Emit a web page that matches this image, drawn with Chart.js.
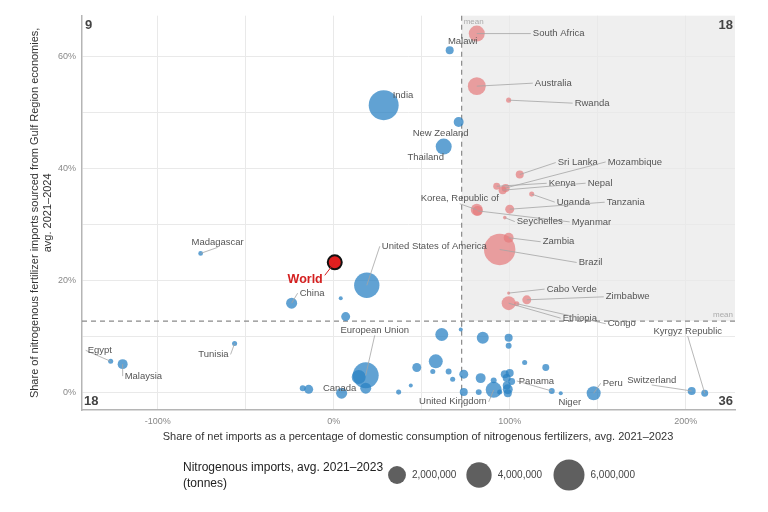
<!DOCTYPE html>
<html>
<head>
<meta charset="utf-8">
<script src="https://cdn.jsdelivr.net/npm/chart.js"></script>
<style>
  html, body { margin: 0; padding: 0; background: #fff; }
  #wrap { width: 768px; height: 512px; }
</style>
</head>
<body>
<div id="wrap"><canvas id="fertChart" width="768" height="512"></canvas></div>
<script>
// Data
const economies = [
  'South Africa', 'Australia', 'Rwanda', 'Sri Lanka', 'Kenya', 'Nepal', 'Mozambique', 'Uganda',
  'Tanzania', 'Korea, Republic of', 'Myanmar', 'Seychelles', 'Zambia', 'Brazil', 'Cabo Verde',
  'Zimbabwe', 'Ethiopia', 'Congo',
  'Malawi', 'India', 'New Zealand', 'Thailand', 'Madagascar', 'United States of America', 'China',
  'Egypt', 'Malaysia', 'Tunisia', 'European Union', 'Canada', 'United Kingdom', 'Panama', 'Niger',
  'Peru', 'Switzerland', 'Kyrgyz Republic',
  '', '', '', '', '', '', '', '', '', '', '', '', '', '', '', '', '', '', '', '', '', '', '', '', '', '', '', '', '', '', '', '', ''
];
// share of net imports in domestic consumption (%)
const netImportShare = [
  81.3, 81.3, 99.4, 105.7, 92.6, 96.0, 97.7, 112.5,
  100.0, 81.3, 81.8, 97.2, 99.4, 94.3, 99.4,
  109.7, 99.4, 104.0,
  65.9, 28.4, 71.0, 62.5, -75.6, 18.8, -23.9,
  -126.7, -119.9, -56.3, 18.2, 4.5, 90.9, 123.9, 129.0,
  147.7, 203.4, 210.8,
  4.0, 6.8, 14.2, 18.2, -17.6, -14.2, 36.9, 43.8, 47.2, 58.0, 56.3, 61.4, 65.3, 67.6, 72.2,
  84.7, 99.4, 99.4, 73.9, 83.5, 90.9, 108.5, 120.5, 73.9, 82.4, 94.3,
  97.2, 100.0, 98.3, 101.1, 98.3, 98.9, 98.9
];
// share of imports sourced from Gulf Region economies (%)
const gulfShare = [
  64.1, 54.7, 52.2, 38.9, 36.8, 36.1, 36.5, 35.4,
  32.7, 32.6, 32.4, 31.2, 27.6, 25.5, 17.7,
  16.5, 15.9, 15.8,
  61.1, 51.3, 48.3, 43.9, 24.8, 19.1, 15.9,
  5.5, 5.0, 8.7, 3.0, -0.2, 0.4, 0.2, -0.2,
  -0.2, 0.2, -0.2,
  16.8, 13.5, 2.7, 0.7, 0.7, 0.5, 0.0, 1.2, 4.4, 5.5, 3.7, 10.3, 3.7, 2.3, 11.2,
  9.7, 9.7, 8.3, 3.2, 2.5, 2.1, 5.3, 4.4, 0.0, 0.0, 0.0,
  3.2, 3.4, 2.5, 1.9, 1.2, 0.5, -0.2
];
// nitrogenous imports, avg. 2021-2023 (tonnes)
const importsTonnes = [
  1600000, 2000000, 160000, 400000, 300000, 400000, 400000, 160000,
  500000, 900000, 620000, 80000, 620000, 6150000, 60000,
  500000, 1220000, 160000,
  400000, 5600000, 620000, 1600000, 140000, 4000000, 760000,
  160000, 620000, 160000, 4200000, 760000, 1600000, 220000, 100000,
  1220000, 400000, 300000,
  100000, 500000, 1220000, 760000, 220000, 500000, 160000, 100000, 500000, 1220000, 160000, 1050000, 220000, 160000, 100000,
  900000, 400000, 220000, 500000, 620000, 220000, 160000, 300000, 400000, 220000, 160000,
  400000, 400000, 400000, 300000, 400000, 620000, 400000
];
const world = { x: 0.6, y: 23.2 };
const meanX = 72.7;
const meanY = 12.7;
const legendSizes = [2000000, 4000000, 6000000];
const quadrantCounts = ['9', '18', '18', '36'];

// label placement (pixel offsets from the bubble), styling only
const labelPlace = {
  'South Africa': [56, 0, 'left'], 'Malawi': [13, -9, 'center', false], 'Australia': [58, -3, 'left'],
  'Rwanda': [66, 3, 'left'], 'India': [9, -10, 'left', false], 'New Zealand': [-18, 11, 'center', false],
  'Thailand': [-18, 11, 'center', false], 'Sri Lanka': [38, -12, 'left'], 'Mozambique': [102, -26, 'left'],
  'Kenya': [52, -3, 'left'], 'Nepal': [85, -7, 'left'], 'Uganda': [25, 8, 'left'], 'Tanzania': [97, -7, 'left'],
  'Korea, Republic of': [-17, -11, 'center'], 'Myanmar': [94, 11, 'left'], 'Seychelles': [12, 4, 'left'],
  'Zambia': [34, 4, 'left'], 'Brazil': [79, 13, 'left'], 'Cabo Verde': [38, -4, 'left'],
  'Zimbabwe': [79, -3, 'left'], 'Ethiopia': [54, 15, 'left'], 'Congo': [91, 20, 'left'],
  'United States of America': [15, -39, 'left'], 'Madagascar': [17, -11, 'center'],
  'China': [8, -10, 'left'], 'European Union': [9, -45, 'center'], 'Egypt': [-23, -11, 'left'],
  'Malaysia': [2, 12, 'left'], 'Tunisia': [-6, 11, 'right'], 'Canada': [-2, -5, 'center', false],
  'United Kingdom': [-7, 12, 'right'], 'Panama': [-33, -10, 'left'], 'Niger': [9, 9, 'center', false],
  'Peru': [9, -10, 'left'], 'Switzerland': [-40, -11, 'center'], 'Kyrgyz Republic': [-17, -62, 'center']
};

const FONT = '"Liberation Sans", Arial, sans-serif';
const radiusOf = v => 15.5 * Math.sqrt(v / 6000000);

const bluePts = [], redPts = [];
economies.forEach((name, i) => {
  const p = { x: netImportShare[i], y: gulfShare[i], r: radiusOf(importsTonnes[i]), name: name };
  if (p.x > meanX && p.y > meanY) redPts.push(p); else bluePts.push(p);
});

const backdrop = {
  id: 'backdrop',
  beforeDraw(chart) {
    const { ctx, chartArea: a, scales: { x, y } } = chart;
    ctx.save();
    ctx.fillStyle = '#efefef';
    const mx = x.getPixelForValue(meanX), my = y.getPixelForValue(meanY);
    ctx.fillRect(mx, a.top, a.right - mx, my - a.top);
    ctx.restore();
  },
  beforeDatasetsDraw(chart) {
    const { ctx, chartArea: a, scales: { x, y } } = chart;
    const mx = x.getPixelForValue(meanX), my = y.getPixelForValue(meanY);
    ctx.save();
    ctx.strokeStyle = '#8a8a8a';
    ctx.lineWidth = 1.2;
    ctx.setLineDash([5, 4]);
    ctx.beginPath();
    ctx.moveTo(mx, a.top); ctx.lineTo(mx, a.bottom);
    ctx.moveTo(a.left, my); ctx.lineTo(a.right, my);
    ctx.stroke();
    ctx.setLineDash([]);
    ctx.fillStyle = '#aaa';
    ctx.font = '8px ' + FONT;
    ctx.textBaseline = 'middle';
    ctx.textAlign = 'left';
    ctx.fillText('mean', mx + 2, a.top + 6);
    ctx.textAlign = 'right';
    ctx.fillText('mean', a.right - 2, my - 6);
    // quadrant counts
    ctx.fillStyle = '#444';
    ctx.font = 'bold 13px ' + FONT;
    ctx.textAlign = 'left';
    ctx.fillText(quadrantCounts[0], a.left + 3, a.top + 10);
    ctx.fillText(quadrantCounts[2], a.left + 2, a.bottom - 9);
    ctx.textAlign = 'right';
    ctx.fillText(quadrantCounts[1], a.right - 2, a.top + 10);
    ctx.fillText(quadrantCounts[3], a.right - 2, a.bottom - 9);
    ctx.restore();
  },
  afterDatasetsDraw(chart) {
    const { ctx, scales: { x, y } } = chart;
    ctx.save();
    const all = bluePts.concat(redPts);
    all.forEach(p => {
      const pl = labelPlace[p.name];
      if (!pl) return;
      const px = x.getPixelForValue(p.x), py = y.getPixelForValue(p.y);
      const lx = px + pl[0], ly = py + pl[1];
      if (pl[3] !== false) {
        let ex = lx, ey = ly;
        if (pl[2] === 'left') ex = lx - 2;
        else if (pl[2] === 'right') ex = lx + 2;
        else ey = ly + (pl[1] < 0 ? 5 : -5);
        ctx.strokeStyle = '#a5a5a5';
        ctx.lineWidth = 0.8;
        ctx.beginPath();
        ctx.moveTo(px, py); ctx.lineTo(ex, ey);
        ctx.stroke();
      }
      ctx.fillStyle = '#555';
      ctx.font = '9.5px ' + FONT;
      ctx.textAlign = pl[2];
      ctx.textBaseline = 'middle';
      ctx.fillText(p.name, lx, ly);
    });
    // World label
    const wx = x.getPixelForValue(world.x), wy = y.getPixelForValue(world.y);
    ctx.strokeStyle = '#d42020';
    ctx.lineWidth = 1;
    ctx.beginPath();
    ctx.moveTo(wx, wy); ctx.lineTo(wx - 10, wy + 13);
    ctx.stroke();
    ctx.fillStyle = '#d42020';
    ctx.font = 'bold 12.5px ' + FONT;
    ctx.textAlign = 'right';
    ctx.textBaseline = 'middle';
    ctx.fillText('World', wx - 12, wy + 17);
    ctx.restore();
  },
  afterDraw(chart) {
    const { ctx, chartArea: a } = chart;
    ctx.save();
    ctx.fillStyle = '#333';
    ctx.textBaseline = 'middle';
    // x title
    ctx.font = '11px ' + FONT;
    ctx.textAlign = 'center';
    ctx.fillText('Share of net imports as a percentage of domestic consumption of nitrogenous fertilizers, avg. 2021\u20132023', 418, 437);
    // y title
    ctx.translate(41, (a.top + a.bottom) / 2);
    ctx.rotate(-Math.PI / 2);
    ctx.fillText('Share of nitrogenous fertilizer imports sourced from Gulf Region economies,', 0, -6);
    ctx.fillText('avg. 2021\u20132024', 0, 7);
    ctx.restore();
    // size legend
    ctx.save();
    ctx.fillStyle = '#222';
    ctx.font = '12px ' + FONT;
    ctx.textAlign = 'left';
    ctx.textBaseline = 'middle';
    ctx.fillText('Nitrogenous imports, avg. 2021\u20132023', 183, 468);
    ctx.fillText('(tonnes)', 183, 484);
    const cx = [397, 479, 569];
    legendSizes.forEach((v, i) => {
      ctx.fillStyle = '#5f5f5f';
      ctx.beginPath();
      ctx.arc(cx[i], 475, radiusOf(v), 0, Math.PI * 2);
      ctx.fill();
      ctx.fillStyle = '#444';
      ctx.font = '10px ' + FONT;
      ctx.fillText(v.toLocaleString('en-US'), cx[i] + radiusOf(v) + 6, 475);
    });
    ctx.restore();
  }
};

new Chart(document.getElementById('fertChart').getContext('2d'), {
  type: 'bubble',
  data: {
    datasets: [{
      label: 'Economies',
      data: bluePts,
      backgroundColor: 'rgba(42,130,196,0.74)',
      borderWidth: 0
    }, {
      label: 'High dependence',
      data: redPts,
      backgroundColor: 'rgba(230,122,124,0.7)',
      borderWidth: 0
    }, {
      label: 'World',
      data: [{ x: world.x, y: world.y, r: 7 }],
      backgroundColor: '#e01f1f',
      borderColor: '#111',
      borderWidth: 2
    }]
  },
  options: {
    responsive: false,
    animation: false,
    events: [],
    layout: { padding: { top: 12, right: 33, left: 0, bottom: 0 } },
    plugins: { legend: { display: false }, tooltip: { enabled: false } },
    scales: {
      x: {
        type: 'linear',
        min: -143, max: 228,
        afterFit: s => { s.height = 102; },
        grid: { color: '#e9e9e9', drawTicks: false },
        border: { display: true, color: '#b5b5b5', width: 1.5 },
        ticks: {
          stepSize: 50, includeBounds: false, padding: 6,
          color: '#888', font: { size: 9, family: FONT },
          callback: v => (v % 100 === 0 ? v + '%' : '')
        }
      },
      y: {
        type: 'linear',
        min: -3.2, max: 67.3,
        afterFit: s => { s.width = 82; },
        grid: { color: '#e9e9e9', drawTicks: false },
        border: { display: true, color: '#b5b5b5', width: 1.5 },
        ticks: {
          stepSize: 10, includeBounds: false, padding: 6,
          color: '#888', font: { size: 9, family: FONT },
          callback: v => (Math.round(v) % 20 === 0 ? Math.round(v) + '%' : '')
        }
      }
    }
  },
  plugins: [backdrop]
});
</script>
</body>
</html>
